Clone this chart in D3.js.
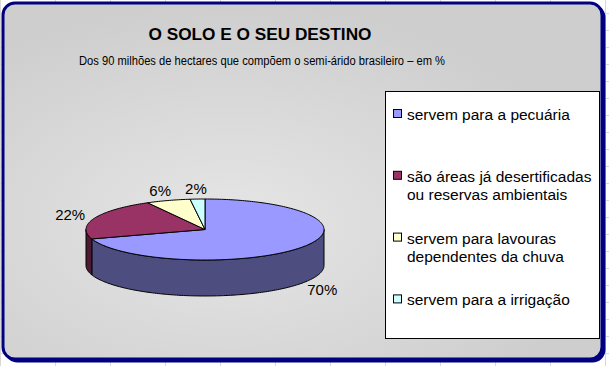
<!DOCTYPE html>
<html>
<head>
<meta charset="utf-8">
<script src="https://cdn.jsdelivr.net/npm/d3@7"></script>
<style>
  html, body { margin: 0; padding: 0; background: #ffffff; }
  svg { display: block; }
  text { font-family: "Liberation Sans", Arial, sans-serif; }
</style>
</head>
<body>
<div id="chart"></div>
<script>
// ---- data ----
const title = "O SOLO E O SEU DESTINO";
const subtitle = "Dos 90 milhões de hectares que compõem o semi-árido brasileiro – em %";
const categories = [
  "servem para a pecuária",
  "são áreas já desertificadas ou reservas ambientais",
  "servem para lavouras dependentes da chuva",
  "servem para a irrigação"
];
const legendLines = [
  ["servem para a pecuária"],
  ["são áreas já desertificadas", "ou reservas ambientais"],
  ["servem para lavouras", "dependentes da chuva"],
  ["servem para a irrigação"]
];
const values = [70, 22, 6, 2];
const valueLabels = ["70%", "22%", "6%", "2%"];
const topColors = ["#9999FF", "#993366", "#FFFFCC", "#CCFFFF"];
const sideColors = ["#4D4D80", "#4D1A33", "#80806A", "#6A8080"];

// ---- layout ----
const W = 609, H = 366;
const svg = d3.select("#chart").append("svg").attr("width", W).attr("height", H);

// spreadsheet gridlines behind the chart
const gridX = d3.range(0, W, 55);
const gridY = d3.range(13, H, 17);
svg.append("g").selectAll("line.gx").data(gridX).join("line")
  .attr("x1", d => d + 0.5).attr("x2", d => d + 0.5).attr("y1", 0).attr("y2", H)
  .attr("stroke", "#d8d8d8");
svg.append("g").selectAll("line.gy").data(gridY).join("line")
  .attr("y1", d => d + 0.5).attr("y2", d => d + 0.5).attr("x1", 0).attr("x2", W)
  .attr("stroke", "#d8d8d8");

const defs = svg.append("defs");
const grad = defs.append("radialGradient").attr("id", "bg")
  .attr("cx", "38%").attr("cy", "62%").attr("r", "62%");
grad.append("stop").attr("offset", "0%").attr("stop-color", "#e6e6e6");
grad.append("stop").attr("offset", "100%").attr("stop-color", "#cecece");

// frame shadow + frame
svg.append("rect").attr("x", 4.5).attr("y", 4.5).attr("width", 601).attr("height", 358)
  .attr("rx", 13).attr("fill", "#000080");
svg.append("rect").attr("x", 3).attr("y", 3).attr("width", 599).attr("height", 356)
  .attr("rx", 12).attr("fill", "url(#bg)").attr("stroke", "#000080").attr("stroke-width", 3);

// titles
svg.append("text").attr("x", 260).attr("y", 40).attr("text-anchor", "middle")
  .attr("font-size", 17).attr("font-weight", "bold").attr("fill", "#000")
  .attr("textLength", 223).attr("lengthAdjust", "spacingAndGlyphs").text(title);
svg.append("text").attr("x", 262).attr("y", 65).attr("text-anchor", "middle")
  .attr("font-size", 12).attr("fill", "#000")
  .attr("textLength", 366).attr("lengthAdjust", "spacingAndGlyphs").text(subtitle);

// ---- 3D pie ----
const cx = 205, cy = 229.5, rx = 119, ry = 30.5, depth = 36;
const pie = d3.pie().sort(null).startAngle(0).endAngle(2 * Math.PI);
const arcs = pie(values);
const px = a => cx + rx * Math.sin(a);
const py = a => cy - ry * Math.cos(a);
const line = d3.line();

function sample(a0, a1) {
  const n = Math.max(2, Math.ceil(Math.abs(a1 - a0) / 0.02));
  return d3.range(n + 1).map(i => a0 + (a1 - a0) * i / n);
}

const pieG = svg.append("g");
// sides (front half only: angles PI/2 .. 3PI/2)
arcs.forEach((d, i) => {
  const a0 = Math.max(d.startAngle, Math.PI / 2);
  const a1 = Math.min(d.endAngle, 3 * Math.PI / 2);
  if (a1 <= a0) return;
  const top = sample(a0, a1).map(a => [px(a), py(a)]);
  const bot = sample(a1, a0).map(a => [px(a), py(a) + depth]);
  pieG.append("path").attr("d", line(top.concat(bot)) + "Z")
    .attr("fill", sideColors[i]).attr("stroke", "#000").attr("stroke-width", 1)
    .attr("stroke-linejoin", "round");
});
// tops
arcs.forEach((d, i) => {
  const pts = [[cx, cy]].concat(sample(d.startAngle, d.endAngle).map(a => [px(a), py(a)]));
  pieG.append("path").attr("d", line(pts) + "Z")
    .attr("fill", topColors[i]).attr("stroke", "#000").attr("stroke-width", 1)
    .attr("stroke-linejoin", "round");
});
// value labels
arcs.forEach((d, i) => {
  const m = (d.startAngle + d.endAngle) / 2;
  const x = cx + (rx + 26) * Math.sin(m);
  let y = cy - (ry + 10) * Math.cos(m);
  if (Math.cos(m) < 0) y += depth;
  svg.append("text").attr("x", x).attr("y", y).attr("dy", "0.36em")
    .attr("text-anchor", "middle").attr("font-size", 15).attr("fill", "#000")
    .text(valueLabels[i]);
});

// ---- legend ----
svg.append("rect").attr("x", 385.5).attr("y", 91.5).attr("width", 214).attr("height", 247)
  .attr("fill", "#fff").attr("stroke", "#000").attr("stroke-width", 1);
const lg = svg.append("g");
categories.forEach((c, i) => {
  const base = 120 + i * 61.8;
  lg.append("rect").attr("x", 393.5).attr("y", base - 10.5).attr("width", 8).attr("height", 8)
    .attr("fill", topColors[i]).attr("stroke", "#000").attr("stroke-width", 1);
  legendLines[i].forEach((t, j) => {
    lg.append("text").attr("x", 407).attr("y", base + j * 18)
      .attr("font-size", 15.5).attr("fill", "#000").text(t);
  });
});
</script>
</body>
</html>
